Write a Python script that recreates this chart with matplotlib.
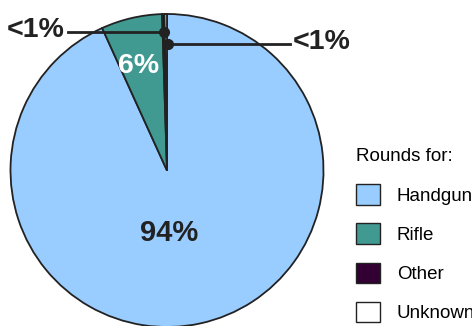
import numpy as np
import matplotlib
matplotlib.use("Agg")
from matplotlib import pyplot as plt

# data
categories = ["Handgun", "Rifle", "Other", "Unknown"]
shares = [93.2, 6.3, 0.25, 0.25]
pct_labels = ["94%", "6%", "<1%", "<1%"]
colors = ["#99ccff", "#409a91", "#330033", "#ffffff"]

plt.rcParams["font.family"] = ["Liberation Sans", "DejaVu Sans"]
dark = "#222222"

W, H = 472, 326
cx, cy, R = 167.0, 170.5, 156.5

fig = plt.figure(figsize=(W / 100, H / 100), dpi=100)
ax = fig.add_axes([(cx - R) / W, (H - cy - R) / H, 2 * R / W, 2 * R / H])

wedges, _ = ax.pie(shares, colors=colors, startangle=90, counterclock=False,
                   radius=1, wedgeprops=dict(edgecolor=dark, linewidth=1.3))
ax.set_xlim(-1, 1)
ax.set_ylim(-1, 1)
ax.set_aspect("equal")
ax.axis("off")


def px(x, y):
    # pixel position -> pie data coords
    return (x - cx) / R, (cy - y) / R


def wedge_point(w, r):
    a = np.deg2rad((w.theta1 + w.theta2) / 2)
    return r * np.cos(a), r * np.sin(a)


bold = dict(fontweight="bold", fontsize=20.5, color=dark)

# big slices labelled inside
ax.text(*px(169, 233), pct_labels[0], ha="center", va="center", **{**bold, "fontsize": 21})
ax.text(*px(139, 66), pct_labels[1], ha="center", va="center",
        **{**bold, "color": "white"})

# small slices with leader lines
ox, oy = wedge_point(wedges[2], 0.885)
ax.plot([px(68, 0)[0], ox], [oy, oy], color=dark, lw=2, clip_on=False)
ax.plot(ox, oy, "o", color=dark, ms=7, clip_on=False)
ax.text(px(65, 0)[0], oy + 0.015, pct_labels[2], ha="right", va="center", **bold)

ux, uy = wedge_point(wedges[3], 0.81)
ux += 0.015
ax.plot([ux, px(290, 0)[0]], [uy, uy], color=dark, lw=2, clip_on=False)
ax.plot(ux, uy, "o", color=dark, ms=7, clip_on=False)
ax.text(px(293, 0)[0], uy + 0.01, pct_labels[3], ha="left", va="center", **bold)

leg = fig.legend(wedges, categories, title="Rounds for:", loc="upper left",
                 bbox_to_anchor=(348 / W, 1 - 141 / H), frameon=False,
                 fontsize=13.5, title_fontsize=13.5, alignment="left",
                 handlelength=1.3, handleheight=1.3, handletextpad=0.9,
                 labelspacing=1.0, borderaxespad=0)
for h in leg.legend_handles:
    h.set_edgecolor(dark)
    h.set_linewidth(1)

fig.savefig("out.png", dpi=100)
